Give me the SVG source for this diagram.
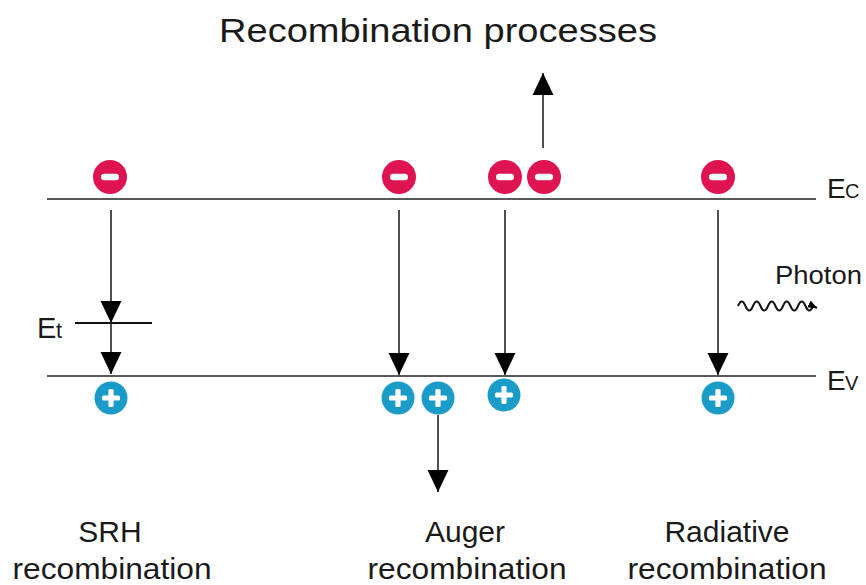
<svg xmlns="http://www.w3.org/2000/svg" width="866" height="585" viewBox="0 0 866 585">
<defs>
<style>
.txt{font-family:"Liberation Sans",Arial,sans-serif;fill:#1a1a1a}
.lbl{font-size:30px;text-anchor:middle}
.band{stroke:#222;stroke-width:1.6;fill:none}
.arr{stroke:#222;stroke-width:1.6;fill:none;marker-end:url(#ah)}
.el{fill:#DE1450}
.ho{fill:#1B9BC8}
.sym{fill:#fff}
</style>
<marker id="ah" markerUnits="userSpaceOnUse" markerWidth="22" markerHeight="22" viewBox="0 0 21 20" refX="21" refY="10" orient="auto">
<path d="M0,0 L21,10 L0,20 z" fill="#000"/>
</marker>
<marker id="ahs" markerUnits="userSpaceOnUse" markerWidth="9" markerHeight="9" viewBox="0 0 9 8" refX="9" refY="4" orient="auto">
<path d="M0,0 L9,4 L0,8 z" fill="#000"/>
</marker>
<g id="minus"><circle r="17" class="el"/><rect x="-9" y="-3.2" width="18" height="6.4" rx="3.2" class="sym"/></g>
<g id="plus"><circle r="16.5" class="ho"/><rect x="-9" y="-2.6" width="18" height="5.2" rx="1.5" class="sym"/><rect x="-2.6" y="-9" width="5.2" height="18" rx="1.5" class="sym"/></g>
</defs>
<rect width="866" height="585" fill="#fff"/>
<text class="txt" x="219" y="42" font-size="34" textLength="438" lengthAdjust="spacingAndGlyphs">Recombination processes</text>

<g id="bands">
<line class="band" x1="47" y1="199" x2="816" y2="199"/>
<line class="band" x1="47" y1="376" x2="816" y2="376"/>
<line x1="75" y1="323" x2="152" y2="323" stroke="#111" stroke-width="2.2"/>
</g>
<g id="band-labels">
<text class="txt" x="827" y="198" font-size="28">E</text>
<text class="txt" x="845" y="198" font-size="20">C</text>
<text class="txt" x="827" y="390" font-size="28">E</text>
<text class="txt" x="845" y="390" font-size="20">V</text>
<text class="txt" x="37" y="338" font-size="29">E</text>
<text class="txt" x="56" y="338" font-size="22">t</text>
</g>

<g id="connectors">
<line class="arr" x1="111" y1="210" x2="111" y2="323"/>
<line class="arr" x1="111" y1="323" x2="111" y2="374"/>
<line class="arr" x1="399" y1="210" x2="399" y2="375"/>
<line class="arr" x1="505" y1="210" x2="505" y2="375"/>
<line class="arr" x1="543" y1="148" x2="543" y2="73"/>
<line class="arr" x1="438" y1="415" x2="438" y2="492"/>
<line class="arr" x1="718" y1="210" x2="718" y2="375"/>
<path d="M738,306 q3.75,-9 7.5,0 t7.5,0 t7.5,0 t7.5,0 t7.5,0 t7.5,0 t7.5,0 t7.5,0 t7.5,0 t7.5,0 l4,2" fill="none" stroke="#111" stroke-width="2" marker-end="url(#ahs)"/>
</g>

<g id="srh">
<use href="#minus" x="110" y="177"/>
<use href="#plus" x="111" y="398"/>
<text class="txt lbl" x="110" y="542">SRH</text>
<text class="txt lbl" x="112" y="579" textLength="199" lengthAdjust="spacingAndGlyphs">recombination</text>
</g>
<g id="auger">
<use href="#minus" x="399" y="177"/>
<use href="#minus" x="505" y="177"/>
<use href="#minus" x="544" y="177"/>
<use href="#plus" x="398" y="398"/>
<use href="#plus" x="438" y="398"/>
<use href="#plus" x="504" y="395"/>
<text class="txt lbl" x="465" y="542">Auger</text>
<text class="txt lbl" x="467" y="579" textLength="199" lengthAdjust="spacingAndGlyphs">recombination</text>
</g>
<g id="radiative">
<use href="#minus" x="718" y="177"/>
<use href="#plus" x="718" y="398"/>
<text class="txt" x="775" y="284" font-size="25" textLength="87" lengthAdjust="spacingAndGlyphs">Photon</text>
<text class="txt lbl" x="727" y="542">Radiative</text>
<text class="txt lbl" x="727" y="579" textLength="199" lengthAdjust="spacingAndGlyphs">recombination</text>
</g>
</svg>
